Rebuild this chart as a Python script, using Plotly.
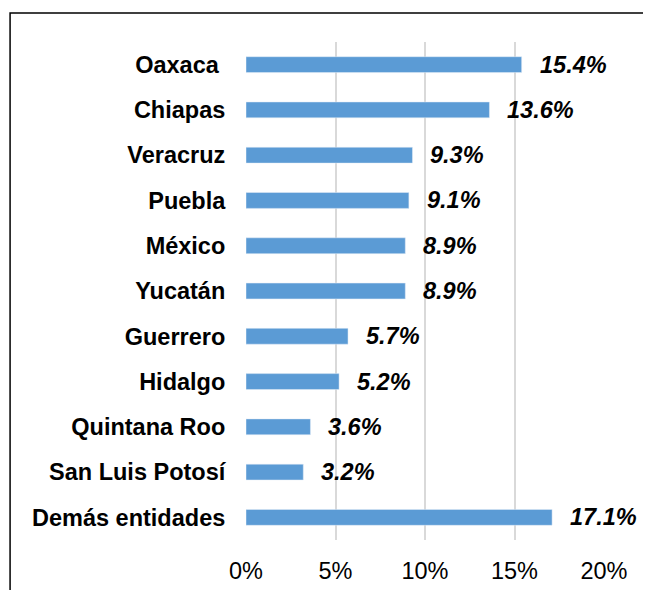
import plotly.graph_objects as go

estados = ["Oaxaca ", "Chiapas", "Veracruz", "Puebla", "México", "Yucatán",
           "Guerrero", "Hidalgo", "Quintana Roo", "San Luis Potosí", "Demás entidades"]
porcentajes = [15.4, 13.6, 9.3, 9.1, 8.9, 8.9, 5.7, 5.2, 3.6, 3.2, 17.1]
etiquetas = ["15.4%", "13.6%", "9.3%", "9.1%", "8.9%", "8.9%",
             "5.7%", "5.2%", "3.6%", "3.2%", "17.1%"]
ticks_x = [0, 5, 10, 15, 20]
ticks_txt = ["0%", "5%", "10%", "15%", "20%"]

FONT = "Liberation Sans, Arial, sans-serif"

fig = go.Figure(go.Bar(
    x=porcentajes, y=estados, orientation="h",
    marker_color="#5B9BD5", width=0.35,
))

# etiquetas de datos en negrita cursiva, un poco separadas del final de la barra
for v, cat, t in zip(porcentajes, estados, etiquetas):
    fig.add_annotation(x=v, y=cat, text=f"<b><i>{t}</i></b>", showarrow=False,
                       xanchor="left", xshift=16,
                       font=dict(family=FONT, size=23.5, color="black"))

# marco
fig.add_shape(type="rect", xref="paper", yref="paper",
              x0=-0.659, x1=1.3, y0=-0.3, y1=1.058,
              line=dict(color="black", width=1.5))

fig.update_layout(
    width=643, height=582,
    margin=dict(l=238, r=47, t=34, b=50),
    plot_bgcolor="white", paper_bgcolor="white",
    showlegend=False,
    font=dict(family=FONT, size=23.5, color="black"),
    xaxis=dict(range=[0, 20], tickvals=ticks_x, ticktext=ticks_txt,
               showgrid=True, gridcolor="#d9d9d9", gridwidth=1.5,
               zeroline=False, showline=False, automargin=False,
               ticks="outside", ticklen=10, tickcolor="rgba(0,0,0,0)",
               tickfont=dict(size=23.5)),
    yaxis=dict(autorange="reversed", showgrid=False, showline=False,
               automargin=False,
               ticks="outside", ticklen=15, tickcolor="rgba(0,0,0,0)",
               tickfont=dict(size=23.5, weight="bold")),
)

fig.write_html("out.html")
